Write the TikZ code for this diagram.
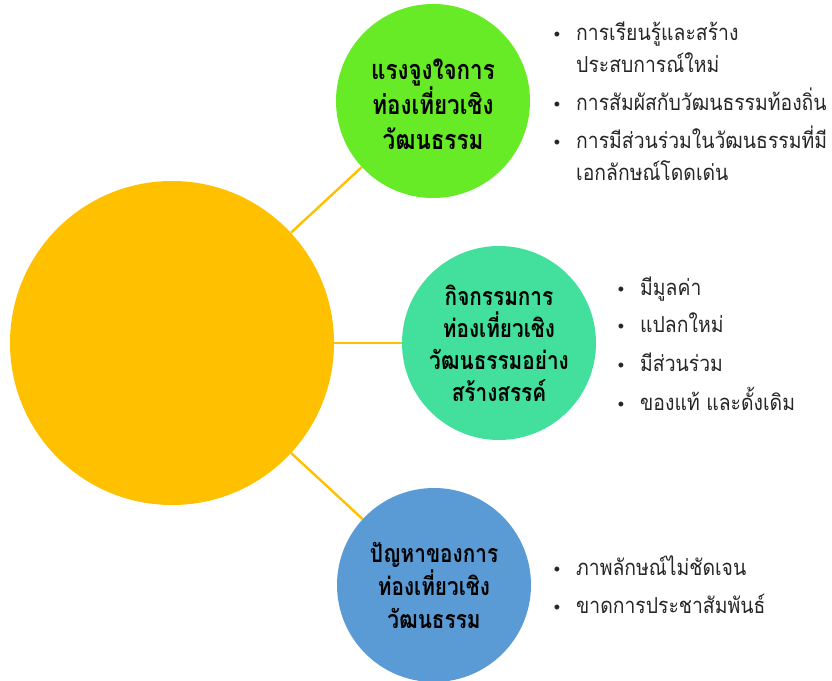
\documentclass[tikz,border=0pt]{standalone}
\usepackage{fontspec}
\newfontfamily\thai[Script=Thai,FakeStretch=0.88]{Loma}
\newfontfamily\thaititle[Script=Thai,FakeStretch=0.83]{Loma}
\newfontfamily\bulfont{Liberation Sans}
\definecolor{mainorange}{HTML}{FFC000}
\definecolor{lime}{HTML}{66EB26}
\definecolor{mint}{HTML}{42E09C}
\definecolor{skyblue}{HTML}{5B9BD5}
\definecolor{txt}{HTML}{262626}
\tikzset{
  bubble/.style={circle, inner sep=0pt, minimum size=194pt, align=center, text=black},
  conn/.style={draw=mainorange, line width=2.4pt},
  bul/.style={anchor=base, font=\bulfont\fontsize{18}{18}\selectfont, text=txt, inner sep=0pt},
  item/.style={anchor=base west, font=\thai\fontsize{22}{24}\selectfont, text=txt, inner sep=0pt},
}
\begin{document}
\begin{tikzpicture}[x=1pt,y=-1pt]
\useasboundingbox (0,0) rectangle (832,680);
\node[circle, fill=mainorange, minimum size=324pt, inner sep=0pt] (main) at (172,343) {};
\node[bubble, fill=lime] (g) at (433,101) {};
\node[align=center, font=\thaititle\bfseries\fontsize{27}{35}\selectfont] (gt) at (433,104) {แรงจูงใจการ\\ท่องเที่ยวเชิง\\วัฒนธรรม};
\node[bubble, fill=mint, font=\thaititle\bfseries\fontsize{25}{32}\selectfont] (t) at (499,343) {กิจกรรมการ\\ท่องเที่ยวเชิง\\วัฒนธรรมอย่าง\\สร้างสรรค์};
\node[bubble, fill=skyblue, font=\thaititle\bfseries\fontsize{25}{33}\selectfont] (b) at (434,585) {ปัญหาของการ\\ท่องเที่ยวเชิง\\วัฒนธรรม};
\draw[conn] (main) -- (g);
\draw[conn] (main) -- (t);
\draw[conn] (main) -- (b);
% list 1
\node[bul] (b11) at (557,40) {•};
\node[item] (i11) at (576,40) {การเรียนรู้และสร้าง};
\node[item] (i12) at (576,72) {ประสบการณ์ใหม่};
\node[bul] (b12) at (557,110) {•};
\node[item] (i13) at (576,110) {การสัมผัสกับวัฒนธรรมท้องถิ่น};
\node[bul] (b13) at (557,148) {•};
\node[item] (i14) at (576,148) {การมีส่วนร่วมในวัฒนธรรมที่มี};
\node[item] (i15) at (576,180) {เอกลักษณ์โดดเด่น};
% list 2
\node[bul] (b21) at (621,295) {•};
\node[item] (i21) at (640,295) {มีมูลค่า};
\node[bul] (b22) at (621,332) {•};
\node[item] (i22) at (640,332) {แปลกใหม่};
\node[bul] (b23) at (621,371) {•};
\node[item] (i23) at (640,371) {มีส่วนร่วม};
\node[bul] (b24) at (621,410) {•};
\node[item] (i24) at (640,410) {ของแท้ และดั้งเดิม};
% list 3
\node[bul] (b31) at (557,575) {•};
\node[item] (i31) at (576,575) {ภาพลักษณ์ไม่ชัดเจน};
\node[bul] (b32) at (557,613) {•};
\node[item] (i32) at (576,613) {ขาดการประชาสัมพันธ์};
\end{tikzpicture}
\end{document}
